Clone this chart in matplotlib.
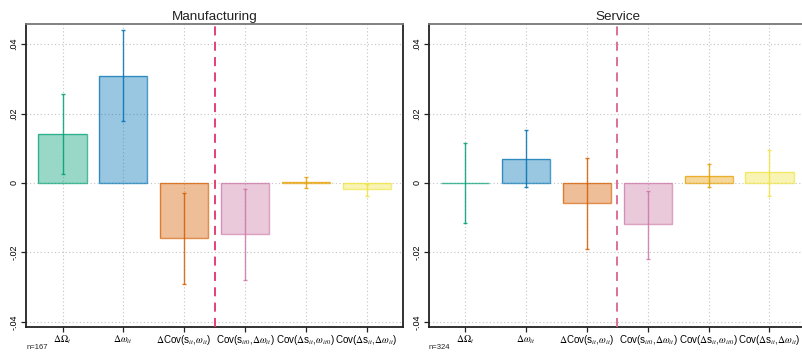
import numpy as np
import matplotlib.pyplot as plt

# ---- data ----
labels = [r'$\Delta\Omega_t$', r'$\Delta\omega_{it}$',
          r'$\Delta$Cov(s$_{it}$,$\omega_{it}$)', r'Cov(s$_{it0}$,$\Delta\omega_{it}$)',
          r'Cov($\Delta$s$_{it}$,$\omega_{it0}$)', r'Cov($\Delta$s$_{it}$,$\Delta\omega_{it}$)']

manu_val = [0.0140, 0.0308, -0.0159, -0.0148, 0.0002, -0.0018]
manu_lo = [0.0025, 0.0179, -0.0292, -0.0280, -0.0016, -0.0037]
manu_hi = [0.0255, 0.0441, -0.0028, -0.0018, 0.0016, -0.0003]

serv_val = [0.0001, 0.0070, -0.0058, -0.0119, 0.0020, 0.0031]
serv_lo = [-0.0114, -0.0012, -0.0191, -0.0218, -0.0012, -0.0037]
serv_hi = [0.0114, 0.0152, 0.0072, -0.0022, 0.0054, 0.0096]

titles = ['Manufacturing', 'Service']
n_obs = [167, 324]
yticks = [-0.04, -0.02, 0, 0.02, 0.04]
ytick_labels = ['-.04', '-.02', '0', '.02', '.04']

COLORS = ['#009E73', '#0072B2', '#D55E00', '#CC79A7', '#E69F00', '#F0E442']

plt.rcParams.update({
    'font.family': ['Liberation Sans', 'DejaVu Sans'],
    'mathtext.fontset': 'stix',
})

fig = plt.figure(figsize=(8.03, 3.54), dpi=100)
ax_pos = [[0.0324, 0.0763, 0.4695, 0.856], [0.5342, 0.0763, 0.4695, 0.856]]
panels = [(manu_val, manu_lo, manu_hi), (serv_val, serv_lo, serv_hi)]
vline_colors = ['#E3336A', '#D9668C']

x = np.arange(1, len(labels) + 1)

for k, (vals, lo, hi) in enumerate(panels):
    ax = fig.add_axes(ax_pos[k])
    vals = np.array(vals)
    lo = np.array(lo)
    hi = np.array(hi)

    # grid
    for xv in x:
        ax.axvline(xv, color='#C4C4C4', linestyle=(0, (1, 2.2)), linewidth=0.8, zorder=0)
    for yv in yticks:
        ax.axhline(yv, color='#C4C4C4', linestyle=(0, (1, 2.2)), linewidth=0.8, zorder=0)

    for i in range(len(x)):
        ax.bar(x[i], vals[i], width=0.79, color=COLORS[i], alpha=0.4, zorder=2)
        ax.bar(x[i], vals[i], width=0.79, facecolor='none', edgecolor=COLORS[i],
               linewidth=1.0, alpha=0.7, zorder=3)
        ax.errorbar(x[i], vals[i], yerr=[[vals[i] - lo[i]], [hi[i] - vals[i]]],
                    fmt='none', ecolor=COLORS[i], elinewidth=1.0, capsize=1.5,
                    capthick=1.0, alpha=0.85, zorder=4)

    ax.axvline(3.5, color=vline_colors[k], linestyle=(0, (5, 3.5)), linewidth=1.3, zorder=5)

    ax.set_xlim(0.4, 6.6)
    ax.set_ylim(-0.0415, 0.0458)
    ax.set_xticks(x)
    ax.set_xticklabels(labels, fontsize=7)
    ax.set_yticks(yticks)
    ax.set_yticklabels(ytick_labels, fontsize=6.5, rotation=90, va='center')
    ax.tick_params(axis='both', direction='out', length=3.5, width=0.9, color='#222222', pad=2)
    ax.tick_params(axis='x', pad=1)
    ax.set_title(titles[k], fontsize=9.7, pad=3, color='#222222')

    for name, spine in ax.spines.items():
        spine.set_color('#222222')
        spine.set_linewidth(1.3)
    ax.spines['top'].set_color('#777777')

    ax.text(0.0, -0.069, f'n={n_obs[k]}', transform=ax.transAxes,
            fontsize=5.5, ha='left', va='center', color='#222222')

fig.savefig('out.png', dpi=100)
